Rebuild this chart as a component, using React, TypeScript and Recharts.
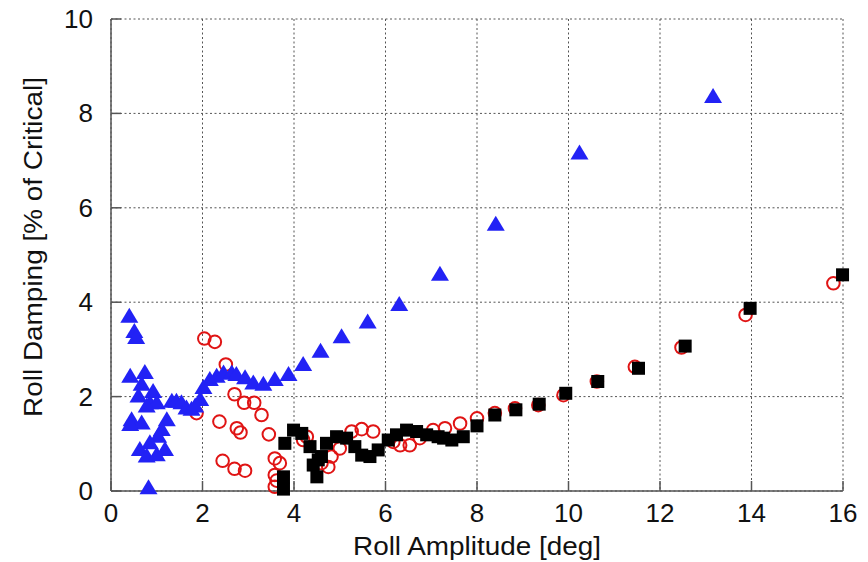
import React from "react";
import {
  CartesianGrid,
  Scatter,
  ScatterChart,
  XAxis,
  YAxis,
} from "recharts";

// roll amplitude [deg] / roll damping [% of critical]
const triangleAmp = [
  0.4, 0.51, 0.55, 0.42, 0.74, 0.67, 0.92, 0.6, 0.85, 1.0, 0.78, 0.45, 0.67,
  0.42, 1.22, 1.11, 1.03, 0.85, 0.63, 1.18, 0.78, 1.0, 0.82, 1.33, 1.43, 1.54,
  1.65, 1.76, 1.84, 1.95, 2.02, 2.16, 2.31, 2.46, 2.64, 2.74, 2.93, 3.11, 3.33,
  3.58, 3.88, 4.2, 4.58, 5.04, 5.61, 6.3, 7.19, 8.41, 10.24, 13.16,
];
const triangleDamp = [
  3.69, 3.37, 3.24, 2.42, 2.5, 2.25, 2.1, 2.0, 1.86, 1.86, 1.79, 1.5, 1.43,
  1.4, 1.5, 1.29, 1.15, 1.01, 0.87, 0.87, 0.73, 0.76, 0.06, 1.89, 1.89, 1.86,
  1.75, 1.72, 1.79, 1.93, 2.18, 2.35, 2.42, 2.49, 2.49, 2.46, 2.39, 2.28, 2.25,
  2.35, 2.46, 2.67, 2.95, 3.26, 3.57, 3.94, 4.58, 5.64, 7.15, 8.35,
];

const circleAmp = [
  1.87, 2.04, 2.27, 2.51, 2.7, 2.91, 3.13, 3.29, 2.37, 2.75, 2.83, 3.45, 2.44,
  2.7, 2.93, 3.58, 3.69, 3.58, 3.62, 3.58, 4.2, 4.28, 4.6, 4.75, 4.82, 5.0,
  5.26, 5.48, 5.73, 6.17, 6.32, 6.53, 6.75, 7.04, 7.3, 7.63, 8.0, 8.39, 8.83,
  9.34, 9.89, 10.62, 11.45, 12.47, 13.87, 15.79,
];
const circleDamp = [
  1.65, 3.23, 3.16, 2.68, 2.05, 1.87, 1.87, 1.61, 1.47, 1.33, 1.24, 1.2, 0.64,
  0.47, 0.43, 0.69, 0.59, 0.34, 0.22, 0.09, 1.08, 1.15, 0.59, 0.51, 0.73, 0.9,
  1.26, 1.31, 1.26, 1.04, 0.97, 0.97, 1.12, 1.29, 1.33, 1.43, 1.54, 1.65, 1.75,
  1.82, 2.03, 2.32, 2.63, 3.04, 3.73, 4.4,
];

const squareAmp = [
  3.77, 3.77, 3.8, 3.99, 4.17, 4.35, 4.42, 4.5, 4.53, 4.6, 4.71, 4.93, 5.15,
  5.33, 5.48, 5.66, 5.84, 6.06, 6.24, 6.46, 6.68, 6.9, 7.15, 7.27, 7.45, 7.7,
  8.0, 8.39, 8.85, 9.36, 9.94, 10.64, 11.53, 12.55, 13.97, 15.99,
];
const squareDamp = [
  0.04, 0.3, 1.01, 1.29, 1.22, 0.94, 0.55, 0.3, 0.66, 0.73, 1.01, 1.15, 1.12,
  0.94, 0.76, 0.73, 0.87, 1.08, 1.19, 1.29, 1.26, 1.19, 1.15, 1.12, 1.08, 1.15,
  1.38, 1.61, 1.72, 1.84, 2.07, 2.32, 2.6, 3.07, 3.87, 4.58,
];

const xTicks = [0, 2, 4, 6, 8, 10, 12, 14, 16];
const yTicks = [0, 2, 4, 6, 8, 10];

const FONT = "'Liberation Sans', Arial, Helvetica, sans-serif";

const toPoints = (xs: number[], ys: number[]) =>
  xs.map((x, i) => ({ x, y: ys[i] }));

const triangles = toPoints(triangleAmp, triangleDamp);
const circles = toPoints(circleAmp, circleDamp);
const squares = toPoints(squareAmp, squareDamp);

const TriangleMark = (props: any) => {
  const { cx, cy } = props;
  if (cx == null || cy == null) return null;
  return (
    <polygon
      points={`${cx},${cy - 9} ${cx - 9},${cy + 6} ${cx + 9},${cy + 6}`}
      fill="#2222f5"
    />
  );
};

const SquareMark = (props: any) => {
  const { cx, cy } = props;
  if (cx == null || cy == null) return null;
  return <rect x={cx - 6.5} y={cy - 6.5} width={13} height={13} fill="#000" />;
};

const CircleMark = (props: any) => {
  const { cx, cy } = props;
  if (cx == null || cy == null) return null;
  return (
    <circle cx={cx} cy={cy} r={6.3} fill="none" stroke="#e01414" strokeWidth={2} />
  );
};

const XTick = (props: any) => {
  const { x, y, payload } = props;
  return (
    <g>
      <line x1={x} y1={y} x2={x} y2={y - 10} stroke="#555" strokeWidth={1.5} />
      <text x={x} y={y + 31} textAnchor="middle" fontSize={26} fontFamily={FONT} fill="#111">
        {payload.value}
      </text>
    </g>
  );
};

const YTick = (props: any) => {
  const { x, y, payload } = props;
  return (
    <g>
      <line x1={x} y1={y} x2={x + 10} y2={y} stroke="#555" strokeWidth={1.5} />
      <text x={x - 18} y={y + 9} textAnchor="end" fontSize={26} fontFamily={FONT} fill="#111">
        {payload.value}
      </text>
    </g>
  );
};

const XTitle = (props: any) => {
  const vb = props.viewBox;
  return (
    <text
      x={vb.x + vb.width / 2}
      y={vb.y + 64}
      textAnchor="middle"
      fontSize={25}
      fontFamily={FONT}
      fill="#111"
      textLength={248}
      lengthAdjust="spacingAndGlyphs"
    >
      Roll Amplitude [deg]
    </text>
  );
};

const YTitle = (props: any) => {
  const vb = props.viewBox;
  const cx = 34;
  const cy = vb.y + vb.height / 2 - 8;
  return (
    <text
      x={cx}
      y={cy}
      transform={`rotate(-90, ${cx}, ${cy})`}
      textAnchor="middle"
      fontSize={25}
      fontFamily={FONT}
      fill="#111"
      textLength={340}
      lengthAdjust="spacingAndGlyphs"
    >
      Roll Damping [% of Critical]
    </text>
  );
};

export default function App() {
  return (
    <div style={{ width: 860, height: 554 }}>
      <ScatterChart
        width={860}
        height={554}
        margin={{ top: 11, right: 25, left: 43, bottom: 1 }}
        style={{ overflow: "visible" }}
      >
        <CartesianGrid stroke="#555" strokeDasharray="2 2.5" />
        <XAxis
          type="number"
          dataKey="x"
          domain={[0, 16]}
          ticks={xTicks}
          height={70}
          tickSize={0}
          tickMargin={0}
          tickLine={false}
          tick={<XTick />}
          axisLine={{ stroke: "#555", strokeWidth: 1.5 }}
          label={{ content: <XTitle /> }}
        />
        <YAxis
          type="number"
          dataKey="y"
          domain={[0, 10]}
          ticks={yTicks}
          width={60}
          tickSize={0}
          tickMargin={0}
          tickLine={false}
          tick={<YTick />}
          axisLine={{ stroke: "#555", strokeWidth: 1.5 }}
          label={{ content: <YTitle /> }}
        />
        <Scatter data={circles} shape={<CircleMark />} isAnimationActive={false} />
        <Scatter data={squares} shape={<SquareMark />} isAnimationActive={false} />
        <Scatter data={triangles} shape={<TriangleMark />} isAnimationActive={false} />
      </ScatterChart>
    </div>
  );
}
